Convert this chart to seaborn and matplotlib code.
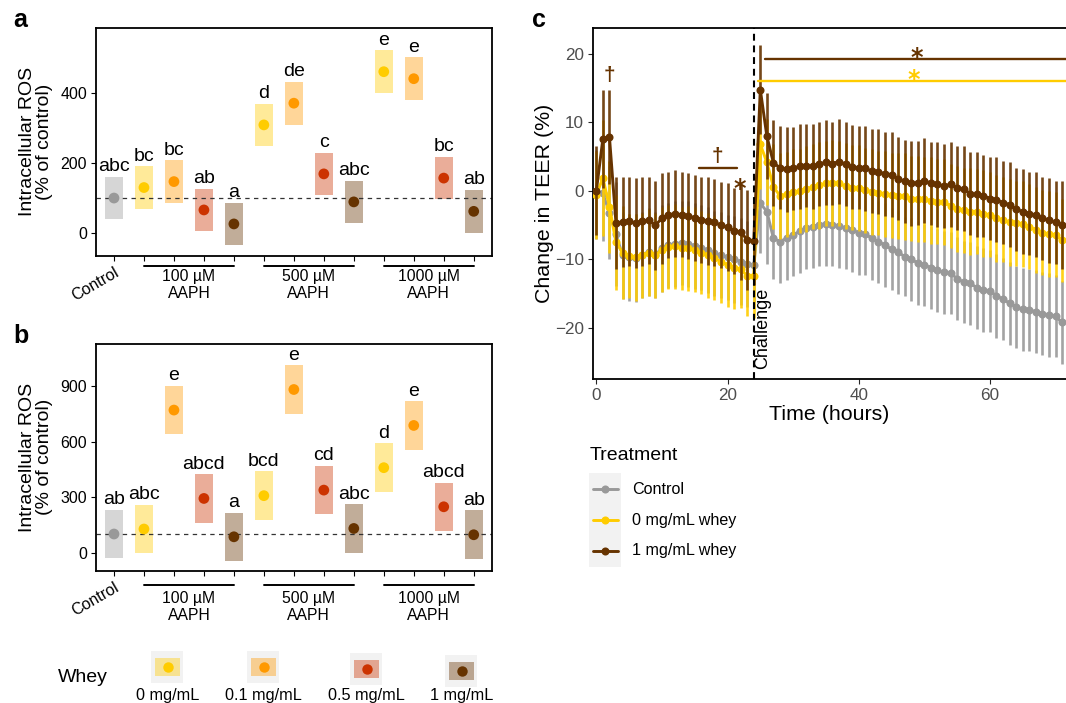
import numpy as np
import pandas as pd
import seaborn as sns
import matplotlib.pyplot as plt
from matplotlib.patches import Rectangle

sns.set_style("ticks")
plt.rcParams['font.family'] = ['Liberation Sans', 'DejaVu Sans']
plt.rcParams['text.color'] = 'black'
plt.rcParams['axes.labelcolor'] = 'black'
plt.rcParams['axes.edgecolor'] = 'black'

# ---------------- panels a and b: intracellular ROS ----------------
aaph_labels = ["100 µM\nAAPH", "500 µM\nAAPH", "1000 µM\nAAPH"]
whey_labels = ["0 mg/mL", "0.1 mg/mL", "0.5 mg/mL", "1 mg/mL"]
column_dose = ["Control"] + whey_labels * 3

ros_a_mean = [99, 129, 146, 65, 25, 308, 370, 168, 88, 460, 440, 156, 61]
ros_a_ci = [61, 61, 61, 61, 61, 61, 61, 61, 61, 61, 61, 61, 61]
ros_a_letters = ["abc", "bc", "bc", "ab", "a", "d", "de", "c", "abc", "e", "e", "bc", "ab"]

ros_b_mean = [101, 128, 770, 293, 86, 308, 881, 338, 131, 459, 687, 248, 97]
ros_b_ci = [131, 131, 131, 131, 131, 131, 131, 131, 131, 131, 131, 131, 131]
ros_b_letters = ["ab", "abc", "e", "abcd", "a", "bcd", "e", "cd", "abc", "d", "e", "abcd", "ab"]

dose_colors = {
    "Control": "#999999",
    "0 mg/mL": "#FFCC00",
    "0.1 mg/mL": "#FF9900",
    "0.5 mg/mL": "#CC3300",
    "1 mg/mL": "#663300",
}

# ---------------- panel c: TEER ----------------
hours = list(range(72))
teer_control = [
    -0.5, -0.3, -3.2, -6.3, -9.4, -9.7, -9.8, -9.3, -8.9, -9.3,
    -8.4, -7.9, -7.7, -7.6, -7.7, -8.0, -8.3, -8.6, -9.1, -9.4,
    -9.7, -10.0, -10.3, -10.7, -10.8,
    -1.8, -3.0, -6.9, -7.4, -6.9, -6.4, -5.9, -5.4, -5.2, -4.9,
    -4.8, -4.9, -5.1, -5.4, -5.7, -6.1, -6.3, -6.9, -7.4, -7.9,
    -8.5, -8.9, -9.6, -10.0, -10.5, -10.8, -11.2, -11.6, -11.9, -12.0,
    -12.8, -13.3, -13.5, -14.1, -14.5, -14.6, -15.3, -15.8, -16.4, -16.9,
    -17.3, -17.4, -17.6, -17.9, -18.1, -18.3, -19.2,
]
teer_whey0 = [
    -0.6, 1.9, -2.3, -7.5, -9.0, -9.5, -9.7, -9.4, -9.0, -9.4,
    -8.6, -8.2, -8.1, -8.4, -8.4, -8.6, -9.0, -9.4, -9.8, -10.3,
    -10.8, -11.2, -11.4, -12.4, -12.4,
    6.8, 4.2, 0.6, -0.7, -0.5, -0.2, 0.0, 0.3, 0.6, 0.8,
    1.1, 1.2, 1.1, 0.7, 0.5, 0.4, 0.1, -0.1, -0.3, -0.4,
    -0.6, -0.7, -0.8, -1.1, -1.2, -1.2, -1.4, -1.6, -1.6, -2.2,
    -2.6, -2.8, -3.0, -3.0, -3.3, -3.5, -4.0, -4.2, -4.6, -4.7,
    -4.8, -5.2, -5.7, -6.1, -6.3, -6.4, -7.2,
]
teer_whey1 = [
    0.0, 7.6, 7.9, -4.7, -4.5, -4.4, -4.7, -4.4, -4.3, -5.0,
    -4.0, -3.5, -3.3, -3.5, -3.7, -3.9, -4.2, -4.4, -4.6, -5.0,
    -5.3, -5.8, -6.0, -7.1, -7.3,
    14.8, 8.0, 4.1, 3.4, 3.2, 3.3, 3.6, 3.7, 3.6, 3.9,
    4.2, 4.0, 4.3, 3.9, 3.5, 3.4, 3.3, 2.9, 2.8, 2.5,
    2.4, 1.8, 1.4, 1.1, 1.2, 1.5, 1.1, 1.0, 0.7, 1.0,
    0.4, 0.3, -0.4, -0.5, -0.7, -1.1, -1.3, -1.7, -2.0, -2.7,
    -3.0, -3.3, -3.5, -4.0, -4.3, -4.6, -5.0,
]
err_control = [
    6.5, 7.0, 6.8, 7.6, 6.4, 6.3, 6.4, 6.3, 6.4, 6.3,
    6.3, 6.2, 6.3, 6.2, 6.3, 6.3, 6.2, 6.3, 6.2, 6.3,
    6.2, 6.3, 6.4, 6.3, 6.4,
    7.3, 7.6, 5.9, 6.0, 6.1, 6.0, 6.1, 6.0, 6.1, 6.0,
    6.1, 6.0, 6.1, 6.0, 6.2, 6.1, 6.0, 6.1, 6.0, 6.1,
    6.0, 6.1, 5.8, 6.0, 6.1, 6.0, 6.1, 6.0, 6.1, 6.0,
    6.1, 6.0, 6.1, 6.0, 6.1, 6.0, 6.1, 6.0, 6.1, 6.0,
    6.1, 6.0, 6.1, 6.0, 6.1, 6.0, 6.0,
]
err_whey0 = [
    6.4, 8.5, 6.7, 6.9, 6.8, 6.2, 6.3, 6.2, 6.3, 6.2,
    6.2, 6.1, 6.2, 6.1, 6.2, 6.2, 6.1, 6.2, 6.1, 6.0,
    6.1, 6.0, 5.7, 5.9, 6.2,
    6.5, 6.3, 6.2, 6.3, 6.2, 6.3, 6.2, 6.3, 6.2, 6.3,
    6.2, 6.3, 6.2, 6.3, 6.2, 6.3, 6.2, 6.3, 6.2, 6.3,
    6.2, 6.3, 6.3, 6.2, 6.3, 6.2, 6.3, 6.2, 6.3, 6.2,
    6.3, 6.2, 6.3, 6.2, 6.3, 6.2, 6.3, 6.2, 6.3, 6.2,
    6.3, 6.2, 6.3, 6.2, 6.3, 6.2, 6.1,
]
err_whey1 = [
    6.5, 7.2, 6.9, 6.7, 6.6, 6.5, 6.6, 6.5, 6.4, 6.5,
    6.6, 6.3, 6.3, 6.2, 6.3, 6.3, 6.3, 6.4, 6.4, 6.3,
    6.4, 6.3, 7.0, 7.3, 6.4,
    6.5, 6.3, 6.3, 6.1, 6.2, 6.1, 6.2, 6.1, 6.2, 6.1,
    6.2, 6.1, 6.2, 6.1, 6.2, 6.1, 6.2, 6.1, 6.2, 6.1,
    6.2, 6.1, 6.1, 6.2, 6.1, 6.2, 6.1, 6.2, 6.1, 6.2,
    6.1, 6.2, 6.1, 6.2, 6.0, 6.1, 6.2, 6.1, 6.2, 6.1,
    6.2, 6.1, 6.2, 6.1, 6.2, 6.1, 6.4,
]
treatments = ["Control", "0 mg/mL whey", "1 mg/mL whey"]
treat_colors = {"Control": "#999999", "0 mg/mL whey": "#FFCC00", "1 mg/mL whey": "#663300"}

# significance marks: (x0, x1, y) brackets and (text, x, y) symbols
sig_lines = [(15.6, 21.4, 3.3, "#663300"), (25.65, 71.6, 19.3, "#663300"), (24.7, 71.6, 16.1, "#FFCC00")]
daggers = [(1.95, 16.1, "#663300"), (18.5, 4.2, "#663300")]
stars = [(21.9, -0.7, "#663300"), (48.9, 18.4, "#663300"), (48.4, 15.25, "#FFCC00")]

W, H = 1066, 703
fig = plt.figure(figsize=(W / 100, H / 100), dpi=100)


def px_axes(left, top, right, bottom):
    return fig.add_axes([left / W, 1 - bottom / H, (right - left) / W, (bottom - top) / H])


def draw_ros(ax, mean, ci, letters, ylim, yticks, line_px, text_px):
    df = pd.DataFrame({"pos": range(1, 14), "mean": mean, "ci": ci, "dose": column_dose})
    ax.bar(df["pos"], 2 * df["ci"], bottom=df["mean"] - df["ci"], width=0.6,
           color=[dose_colors[d] for d in df["dose"]], alpha=0.4, linewidth=0, zorder=1)
    ax.axhline(100, color="#333333", lw=0.9, dashes=(3.5, 3.5), zorder=2)
    sns.scatterplot(data=df, x="pos", y="mean", hue="dose", palette=dose_colors,
                    s=60, linewidth=0, legend=False, ax=ax, zorder=3)
    for p, top, lab in zip(df["pos"], df["mean"] + df["ci"], letters):
        ax.annotate(lab, (p, top), xytext=(0, 4.0), textcoords="offset points",
                    ha="center", va="baseline", fontsize=14)
    ax.set_xlim(0.4, 13.6)
    ax.set_ylim(*ylim)
    ax.set_yticks(yticks)
    ax.set_xticks(range(1, 14))
    ax.set_xticklabels(["Control"] + [""] * 12, rotation=30, ha="right",
                       rotation_mode="anchor", fontsize=11.3)
    ax.set_xlabel("")
    ax.set_ylabel("Intracellular ROS\n(% of control)", fontsize=14, linespacing=1.0)
    ax.yaxis.set_label_coords(-0.108, 0.5)
    ax.tick_params(axis="both", length=3.5, width=0.8, labelsize=11.5, colors="black", pad=3)
    for s in ax.spines.values():
        s.set_linewidth(1.3)
        s.set_color("black")
    h = ax.get_position().height * H
    trans = ax.get_xaxis_transform()
    for k, lab in enumerate(aaph_labels):
        x0, x1 = 2 + 4 * k, 5 + 4 * k
        ax.plot([x0, x1], [-line_px / h] * 2, transform=trans, clip_on=False, color="black", lw=1.4)
        ax.text((x0 + x1) / 2, -text_px / h, lab, transform=trans, ha="center", va="top",
                fontsize=11.3, linespacing=1.15)


ax_a = px_axes(96, 27.7, 491.7, 256)
draw_ros(ax_a, ros_a_mean, ros_a_ci, ros_a_letters, (-66.6, 585.7), [0, 200, 400], 9.7, 13.5)

ax_b = px_axes(96, 344, 491.7, 570.7)
draw_ros(ax_b, ros_b_mean, ros_b_ci, ros_b_letters, (-97, 1126.6), [0, 300, 600, 900], 14.3, 20.5)

# ---------------- panel c ----------------
ax_c = px_axes(592.7, 27.7, 1066, 379.3)
teer = pd.DataFrame({
    "hour": hours * 3,
    "treatment": np.repeat(treatments, len(hours)),
    "change": teer_control + teer_whey0 + teer_whey1,
    "err": err_control + err_whey0 + err_whey1,
})
for z, (name, sub) in enumerate(teer.groupby("treatment", sort=False)):
    col = treat_colors[name]
    ax_c.vlines(sub["hour"], sub["change"] - sub["err"], sub["change"] + sub["err"],
                color=col, lw=1.9, alpha=0.9, zorder=2 + 2 * z)
    sns.lineplot(data=sub, x="hour", y="change", color=col, marker="o", markersize=5.8,
                 markeredgewidth=0, lw=2.1, ax=ax_c, zorder=3 + 2 * z)

ax_c.axvline(24, color="black", lw=1.5, dashes=(3.3, 2.3), zorder=10)
ax_c.text(24.05, -26.0, "Challenge", rotation=90, ha="left", va="bottom", fontsize=13, zorder=11)
for x0, x1, y, col in sig_lines:
    ax_c.plot([x0, x1], [y, y], color=col, lw=1.7, zorder=9)
for x, y, col in daggers:
    ax_c.text(x, y, "†", color=col, ha="center", va="baseline", fontsize=15,
              fontweight="bold", zorder=9)
for x, y, col in stars:
    ax_c.text(x, y, "*", color=col, ha="center", va="baseline", fontsize=17,
              fontweight="bold", family="DejaVu Sans", zorder=9)

ax_c.set_xlim(-0.55, 71.6)
ax_c.set_ylim(-27.5, 23.84)
ax_c.set_xticks([0, 20, 40, 60])
ax_c.set_yticks([-20, -10, 0, 10, 20])
ax_c.set_xlabel("Time (hours)", fontsize=15.4)
ax_c.set_ylabel("Change in TEER (%)", fontsize=15.4)
ax_c.yaxis.set_label_coords(-0.082, 0.5)
ax_c.xaxis.set_label_coords(0.5, -0.072)
ax_c.tick_params(axis="both", length=3.5, width=0.8, labelsize=12.3, labelcolor="#4D4D4D", pad=3)
for s in ax_c.spines.values():
    s.set_linewidth(1.3)
ax_c.spines["right"].set_visible(False)

# ---------------- legends and panel letters ----------------
ov = fig.add_axes([0, 0, 1, 1])
ov.set_xlim(0, W)
ov.set_ylim(H, 0)
ov.axis("off")

for lab, x, y in [("a", 13, 27), ("b", 13, 342.7), ("c", 531.7, 26.7)]:
    ov.text(x, y, lab, fontsize=18, fontweight="bold", ha="left", va="baseline")

ov.text(590, 455, "Treatment", fontsize=14, va="center", ha="left")
ov.add_patch(Rectangle((589, 472.7), 32, 94.6, color="#F2F2F2", lw=0))
for y, name in zip([489.3, 520, 550.7], treatments):
    col = treat_colors[name]
    ov.plot([592.5, 617.5], [y, y], color=col, lw=2.1)
    ov.plot([605], [y], "o", color=col, ms=5.8, mew=0)
    ov.text(631.7, y, name, fontsize=11.6, va="center", ha="left")

ov.text(58, 677, "Whey", fontsize=14, va="center", ha="left")
for x, y, name in zip([151, 247, 350, 445], [651, 651, 653, 655], whey_labels):
    col = dose_colors[name]
    ov.add_patch(Rectangle((x, y), 32, 32, color="#F2F2F2", lw=0))
    ov.add_patch(Rectangle((x + 4, y + 7.3), 25, 17.7, color=col, alpha=0.4, lw=0))
    ov.plot([x + 16.5], [y + 16], "o", color=col, ms=7.5, mew=0)
    ov.text(x + 16.5, 688, name, fontsize=11.7, ha="center", va="top")

fig.savefig("out.png", dpi=100)
